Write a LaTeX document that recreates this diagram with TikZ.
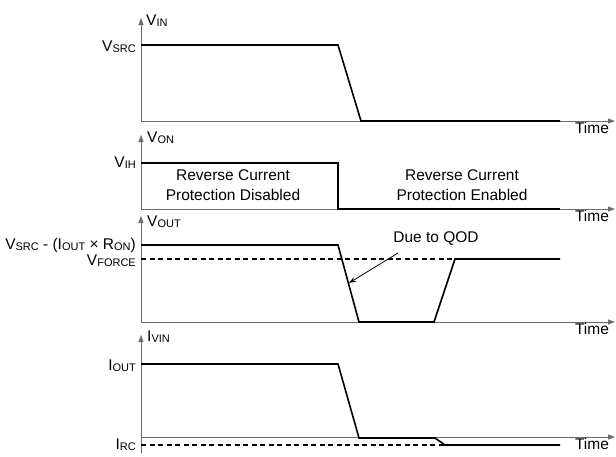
\documentclass[tikz,border=0pt]{standalone}
\usepackage{fontspec}
\setmainfont{Liberation Sans}
\usetikzlibrary{arrows.meta}
\newcommand\subt[1]{\raisebox{-1pt}{\fontsize{11}{12}\selectfont #1}}
\begin{document}
\begin{tikzpicture}[x=1pt,y=-1pt,
  axisstyle/.style={draw=gray!85!black,line width=0.9pt,-{Triangle[length=7pt,width=5pt]}},
  wavestyle/.style={draw=black,line width=1.6pt,line join=miter},
  levelstyle/.style={draw=black,line width=1.3pt,dash pattern=on 5pt off 3.5pt},
  textstyle/.style={inner sep=0pt,font=\fontsize{15.5}{20}\selectfont}]
  \useasboundingbox (0,0) rectangle (616,456);

  \foreach \n/\ytop/\ybase/\ybot in {in/18/121/121,on/135/209/209,out/216/322/322,vin/335/437/453}
    {\draw[axisstyle] (141,\ybot) -- (141,\ytop);
     \draw[axisstyle] (141,\ybase) -- (615,\ybase);
     \node[textstyle] (time\n) at (592,\ybase+7) {Time};}

  % axis names
  \node[textstyle,anchor=base west] (vin)  at (146,25)  {V\subt{IN}};
  \node[textstyle,anchor=base west] (von)  at (147,142) {V\subt{ON}};
  \node[textstyle,anchor=base west] (vout) at (147,226) {V\subt{OUT}};
  \node[textstyle,anchor=base west] (ivin) at (147,341) {I\subt{VIN}};

  % levels
  \node[textstyle,anchor=base east] (vsrc)   at (136,51)  {V\subt{SRC}};
  \node[textstyle,anchor=base east] (vih)    at (136,167) {V\subt{IH}};
  \node[textstyle,anchor=base east] (vdrop)  at (136,249) {V\subt{SRC} - (I\subt{OUT} × R\subt{ON})};
  \node[textstyle,anchor=base east] (vforce) at (136,265) {V\subt{FORCE}};
  \node[textstyle,anchor=base east] (iout)   at (136,370) {I\subt{OUT}};
  \node[textstyle,anchor=base east] (irc)    at (136,449) {I\subt{RC}};

  \node[textstyle,align=center] (disabled) at (233,185) {Reverse Current\\Protection Disabled};
  \node[textstyle,align=center] (enabled)  at (462,185) {Reverse Current\\Protection Enabled};

  % waveforms
  \draw[levelstyle] (141,259) -- (463,259);
  \draw[levelstyle] (141,445) -- (465,445);
  \draw[wavestyle] (141,45) -- (338,45) -- (361,121) -- (560,121);
  \draw[wavestyle] (141,163) -- (338,163) -- (338,209) -- (560,209);
  \draw[wavestyle] (141,245) -- (338,245) -- (359,322) -- (434,322) -- (455,259) -- (560,259);
  \draw[wavestyle] (141,364) -- (338,364) -- (359,438) -- (435,438) -- (445,445) -- (560,445);

  \node[textstyle] (qod) at (436,239) {Due to QOD};
  \coordinate (qodtail) at (398,253);
  \coordinate (qodhead) at (349,283);
  \draw[line width=0.8pt,-{Stealth[length=7pt,width=5pt]}] (qodtail) -- (qodhead);
\end{tikzpicture}
\end{document}
